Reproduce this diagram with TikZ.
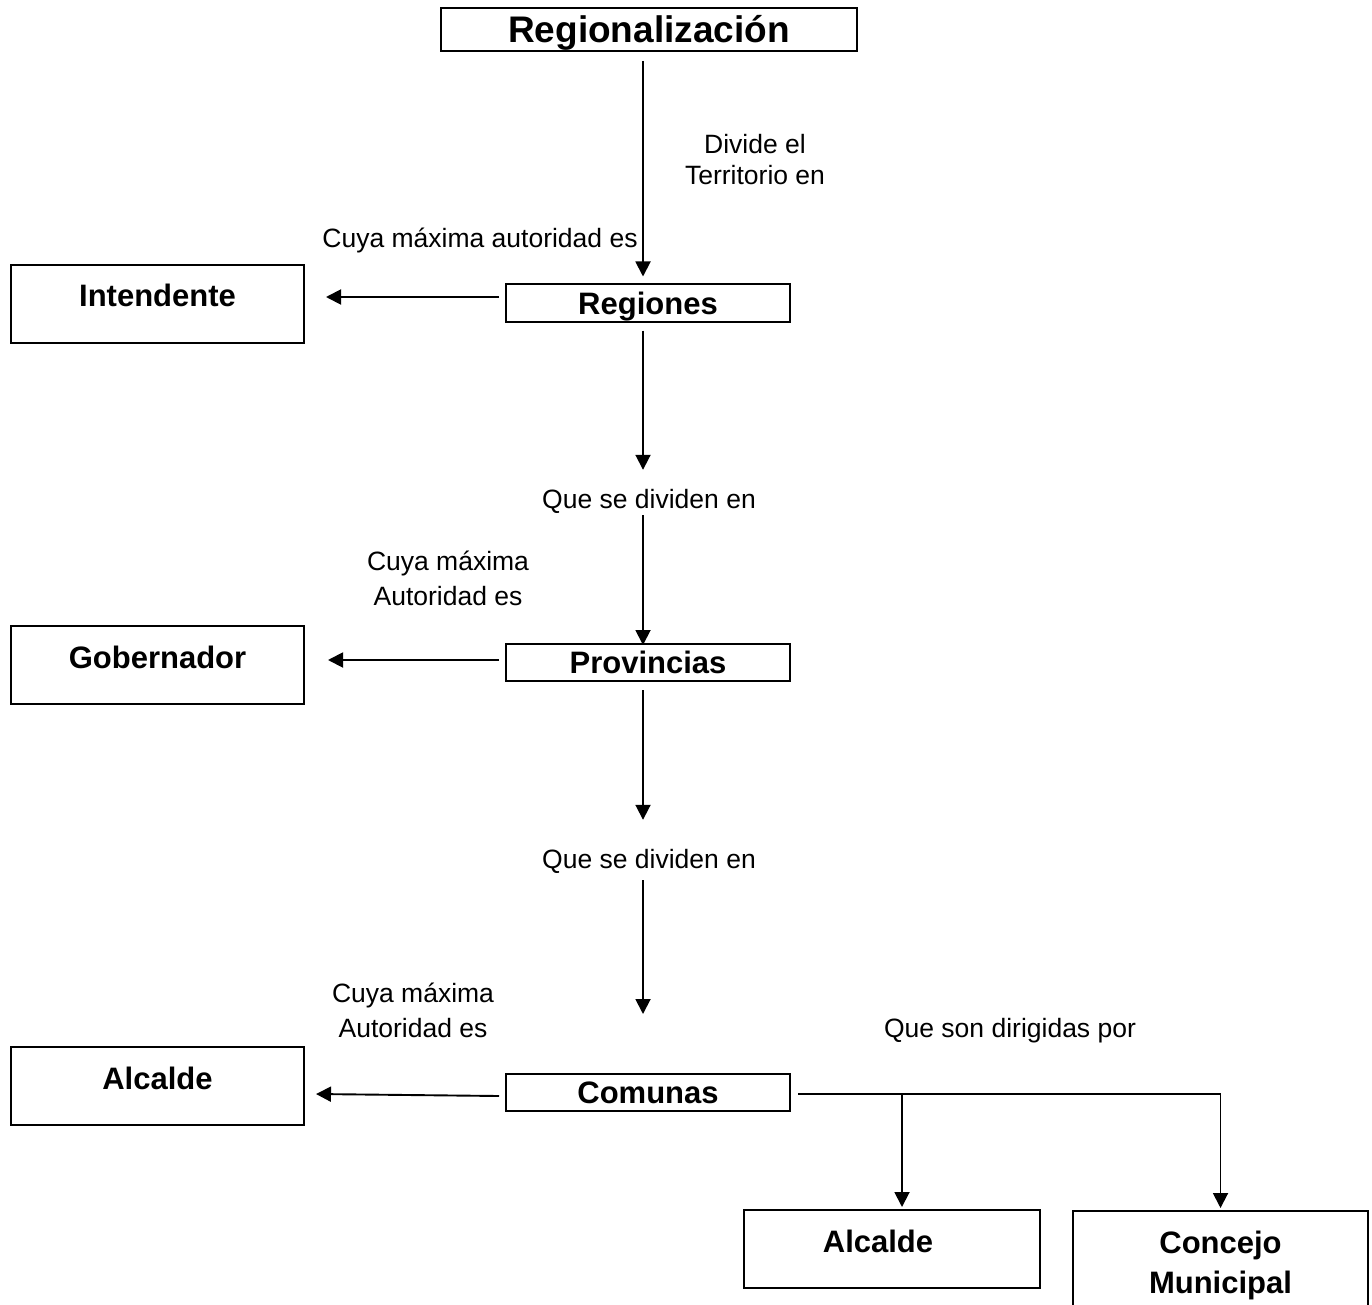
\documentclass[tikz,border=0pt]{standalone}
\usepackage{fontspec}
\setmainfont{Liberation Sans}
\usetikzlibrary{arrows.meta}
\begin{document}
\begin{tikzpicture}[x=1pt,y=-1pt,
 arr/.style={line width=1.9pt,-{Triangle[length=15pt,width=15pt]}},
 bx/.style={draw,line width=2pt,inner sep=0pt},
 small/.style={bx,minimum width=284pt,minimum height=37pt,font=\fontsize{31}{37}\selectfont\bfseries,text height=22pt,text depth=0pt},
 tall/.style={bx,minimum width=293pt,minimum height=78pt,font=\fontsize{31}{37}\selectfont\bfseries,text height=22pt,text depth=16pt},
 lab/.style={inner sep=0pt,font=\fontsize{26.5}{35}\selectfont,align=center},
 lab1/.style={lab,text height=19pt,text depth=0pt}
]
\useasboundingbox (0,0) rectangle (1372,1305);
\fill[white] (0,0) rectangle (1372,1305);
\clip (0,0) rectangle (1372,1305);

\node[bx,minimum width=416pt,minimum height=43pt,font=\fontsize{37}{44}\selectfont\bfseries,text height=26.5pt,text depth=0pt] (top) at (649,29.5) {Regionalización};
\node[small] (reg) at (648,303) {Regiones};
\node[small] (prov) at (648,662.5) {Provincias};
\node[small] (com) at (648,1092.5) {Comunas};
\node[tall] (int) at (157.5,304) {Intendente};
\node[tall] (gob) at (157.5,665) {Gobernador};
\node[tall] (alc) at (157.5,1086) {Alcalde};
\node[tall,minimum width=296pt] (alc2) at (892,1249) {\hspace*{-28pt}Alcalde};
\node[bx,anchor=north,minimum width=295pt,inner ysep=20pt,align=center,font=\fontsize{31}{40}\selectfont\bfseries] (con) at (1220.5,1210) {Concejo\\Municipal};

\node[lab,font=\fontsize{26.5}{31}\selectfont] (l1) at (755,159.5) {Divide el\\Territorio en};
\node[lab1] (l2) at (480,238) {Cuya máxima autoridad es};
\node[lab1] (q1) at (649,499) {Que se dividen en};
\node[lab1] (q2) at (649,859) {Que se dividen en};
\node[lab] (l3) at (448,578.5) {Cuya máxima\\Autoridad es};
\node[lab] (l4) at (413,1010.5) {Cuya máxima\\Autoridad es};
\node[lab1] (l5) at (1010,1028) {Que son dirigidas por};

\draw[arr] ([xshift=-6pt,yshift=-9pt]top.south) -- ([xshift=-5pt,yshift=7pt]reg.north);
\draw[arr] ([xshift=-6pt,yshift=6pt]reg.west) -- ([xshift=21pt,yshift=7pt]int.east);
\draw[arr] ([xshift=-5pt,yshift=-8pt]reg.south) -- ([xshift=-6pt,yshift=19.5pt]q1.north);
\draw[arr] ([xshift=-6pt,yshift=-6.5pt]q1.south) -- ([xshift=-5pt,yshift=-2pt]prov.north);
\draw[arr] ([xshift=-6pt,yshift=2.5pt]prov.west) -- ([xshift=23pt,yshift=5pt]gob.east);
\draw[arr] ([xshift=-5pt,yshift=-8pt]prov.south) -- ([xshift=-6pt,yshift=29.5pt]q2.north);
\draw[arr] ([xshift=-6pt,yshift=-11.5pt]q2.south) -- ([xshift=-5pt,yshift=59pt]com.north);
\draw[arr] ([xshift=-6pt,yshift=-3.5pt]com.west) -- ([xshift=11pt,yshift=-8pt]alc.east);
\draw[arr] ([xshift=7pt,yshift=-1.5pt]com.east) -| ([yshift=2pt]con.north);
\draw[arr] ([xshift=10pt,yshift=-1.5pt]alc2.north |- com.east) -- ([xshift=10pt,yshift=2pt]alc2.north);
\end{tikzpicture}
\end{document}
